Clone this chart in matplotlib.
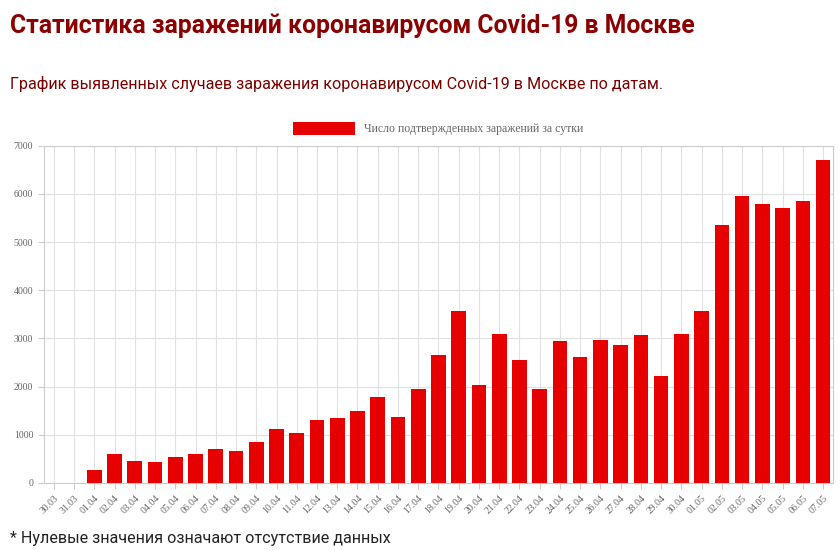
import matplotlib
matplotlib.use("Agg")
import matplotlib.pyplot as plt

dates = ["30.03","31.03"] + [f"{d:02d}.04" for d in range(1,31)] + [f"{d:02d}.05" for d in range(1,8)]
cases = [0,0,267,595,448,434,536,591,697,660,857,1124,1030,1306,1355,1489,1774,1370,1959,2649,3570,2032,3083,2548,1958,2948,2612,2971,2871,3075,2220,3093,3561,5358,5948,5795,5714,5858,6703]
yticks = [0,1000,2000,3000,4000,5000,6000,7000]

fig = plt.figure(figsize=(8.4,5.5), dpi=100)
ax = fig.add_axes([0.052, 0.122, 0.940, 0.613])
x = range(len(dates))
ax.bar(x, cases, width=0.72, color="#e60000", label="Число подтвержденных заражений за сутки", zorder=3)
ax.set_xlim(-0.5, len(dates)-0.5)
ax.set_ylim(0, 7000)
ax.set_yticks(yticks)
ax.set_yticklabels([str(v) for v in yticks], fontsize=7, color="#666", family="Liberation Serif")
ax.set_xticks(list(x))
ax.set_xticklabels(dates, rotation=45, ha="right", rotation_mode="anchor", fontsize=7, color="#666", family="Liberation Serif")
ax.grid(True, color="#e0e0e0", linewidth=0.8, zorder=0)
for s in ax.spines.values():
    s.set_color("#ccc")
ax.tick_params(length=4, color="#ccc")
ax.legend(loc="lower center", bbox_to_anchor=(0.5, 1.0), frameon=False, prop={"family":"Liberation Serif","size":8.5}, handlelength=5.2, handleheight=1.3, labelcolor="#666")
fig.text(0.012, 0.94, "Статистика заражений коронавирусом Covid-19 в Москве", fontsize=17.8, fontweight="bold", color="#8b0000", family="Roboto")
fig.text(0.012, 0.838, "График выявленных случаев заражения коронавирусом Covid-19 в Москве по датам.", fontsize=11.6, color="#7a0000", family="Roboto")
fig.text(0.012, 0.012, "* Нулевые значения означают отсутствие данных", fontsize=11.6, color="#222", family="Roboto")
fig.savefig("out.png")
